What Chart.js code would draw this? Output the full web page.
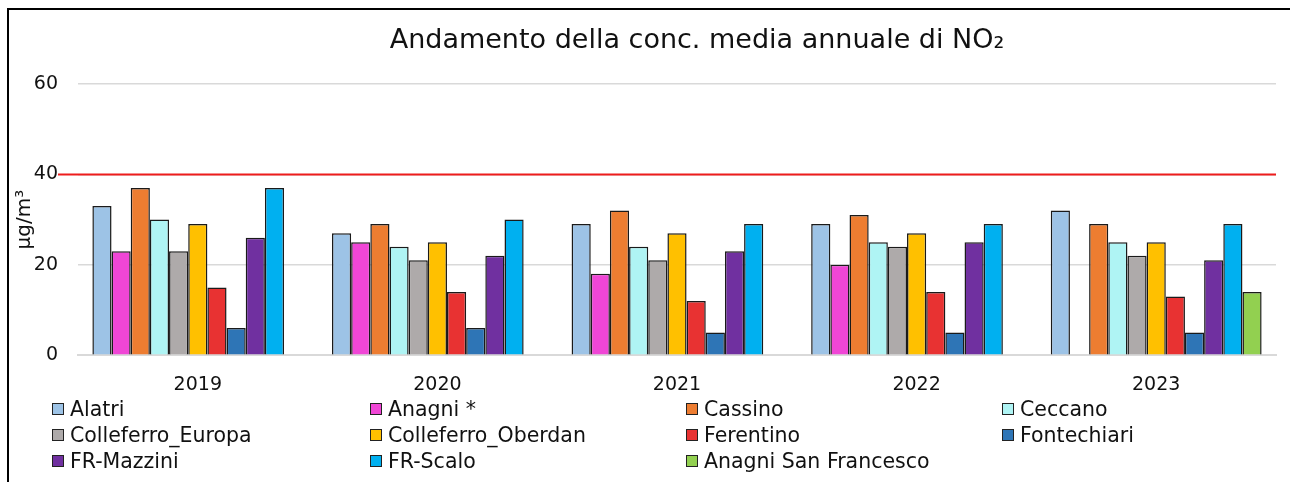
<!DOCTYPE html>
<html>
<head>
<meta charset="utf-8">
<script src="https://cdn.jsdelivr.net/npm/chart.js@4/dist/chart.umd.min.js"></script>
<style>
  body { margin: 0; background: #fff; width: 1290px; height: 482px; overflow: hidden; font-family: "DejaVu Sans", sans-serif; }
  #frame { position: absolute; left: 7px; top: 8px; width: 1290px; height: 480px; border-left: 2px solid #000; border-top: 2px solid #000; }
  #wrap { position: absolute; left: 8px; top: 9px; width: 1282px; height: 409px; }
  #legenda { position: absolute; left: 52px; top: 398px; width: 1240px; display: grid; grid-template-columns: 318px 316px 316px 290px; row-gap: 4px; }
  .item { display: flex; align-items: center; font-size: 20.5px; color: #111; height: 22px; white-space: nowrap; }
  .box { width: 10px; height: 10px; border: 1px solid #222; margin-right: 6px; flex: none; }
</style>
</head>
<body>
<div id="frame"></div>
<div id="wrap"><canvas id="myChart"></canvas></div>
<div id="legenda"></div>
<script>
var anni = ['2019', '2020', '2021', '2022', '2023'];
var stazioni = ['Alatri', 'Anagni *', 'Cassino', 'Ceccano', 'Colleferro_Europa', 'Colleferro_Oberdan',
  'Ferentino', 'Fontechiari', 'FR-Mazzini', 'FR-Scalo', 'Anagni San Francesco'];
var colori = ['#9dc3e6', '#f046d6', '#ed7d31', '#aff4f4', '#aeaaaa', '#ffc000',
  '#e83232', '#2e75b6', '#7030a0', '#00b0f0', '#92d050'];

var alatri = [33, 27, 29, 29, 32];
var anagni = [23, 25, 18, 20, null];
var cassino = [37, 29, 32, 31, 29];
var ceccano = [30, 24, 24, 25, 25];
var colleferroEuropa = [23, 21, 21, 24, 22];
var colleferroOberdan = [29, 25, 27, 27, 25];
var ferentino = [15, 14, 12, 14, 13];
var fontechiari = [6, 6, 5, 5, 5];
var frMazzini = [26, 22, 23, 25, 21];
var frScalo = [37, 30, 29, 29, 29];
var anagniSanFrancesco = [null, null, null, null, 14];

var limite = 40;
var yTicks = [0, 20, 40, 60];

var valori = [alatri, anagni, cassino, ceccano, colleferroEuropa, colleferroOberdan,
  ferentino, fontechiari, frMazzini, frScalo, anagniSanFrancesco];

var datasets = stazioni.map(function (s, i) {
  return {
    label: s,
    data: valori[i],
    backgroundColor: colori[i],
    borderColor: '#1a1a1a',
    borderWidth: 1.5,
    borderSkipped: 'bottom'
  };
});

// linea rossa del limite annuale
var lineaLimite = {
  id: 'lineaLimite',
  afterDatasetsDraw: function (chart) {
    var c = chart.ctx;
    var y = chart.scales.y.getPixelForValue(limite);
    c.save();
    c.strokeStyle = '#ee1c1c';
    c.lineWidth = 2;
    c.beginPath();
    c.moveTo(chart.chartArea.left - 20, y);
    c.lineTo(chart.chartArea.right, y);
    c.stroke();
    c.restore();
  }
};

var titolo = {
  id: 'titolo',
  afterDraw: function (chart) {
    var c = chart.ctx;
    var a = chart.chartArea;
    c.save();
    c.fillStyle = '#111';
    c.font = '27px "DejaVu Sans"';
    c.textAlign = 'center';
    c.textBaseline = 'middle';
    c.fillText('Andamento della conc. media annuale di NO\u2082', (a.left + a.right) / 2 + 20, 32);
    c.restore();
  }
};

var ctx = document.getElementById('myChart');
var myChart = new Chart(ctx, {
  type: 'bar',
  data: { labels: anni, datasets: datasets },
  plugins: [lineaLimite, titolo],
  options: {
    responsive: true,
    maintainAspectRatio: false,
    animation: false,
    layout: { padding: { top: 75, right: 14, bottom: 4, left: 0 } },
    datasets: { bar: { categoryPercentage: 0.88, barPercentage: 1.0 } },
    plugins: {
      legend: { display: false },
      title: { display: false },
      tooltip: { enabled: false }
    },
    scales: {
      x: {
        grid: { display: false, drawTicks: false },
        border: { display: true, color: '#d9d9d9', width: 2 },
        ticks: { color: '#111', font: { family: 'DejaVu Sans', size: 19 }, padding: 18 }
      },
      y: {
        min: 0,
        max: 60,
        afterBuildTicks: function (scale) {
          scale.ticks = yTicks.map(function (v) { return { value: v }; });
        },
        afterFit: function (scale) { scale.width = 70; },
        grid: { color: '#d9d9d9', lineWidth: 1.5, drawTicks: false },
        border: { display: false },
        ticks: { color: '#111', font: { family: 'DejaVu Sans', size: 19 }, padding: 20 },
        title: {
          display: true,
          text: 'µg/m³',
          color: '#111',
          font: { family: 'DejaVu Sans', size: 20 },
          padding: { top: 5, bottom: 0 }
        }
      }
    }
  }
});

var legenda = document.getElementById('legenda');
stazioni.forEach(function (s, i) {
  var el = document.createElement('div');
  el.className = 'item';
  el.innerHTML = '<span class="box" style="background:' + colori[i] + '"></span>' + s;
  legenda.appendChild(el);
});
</script>
</body>
</html>
